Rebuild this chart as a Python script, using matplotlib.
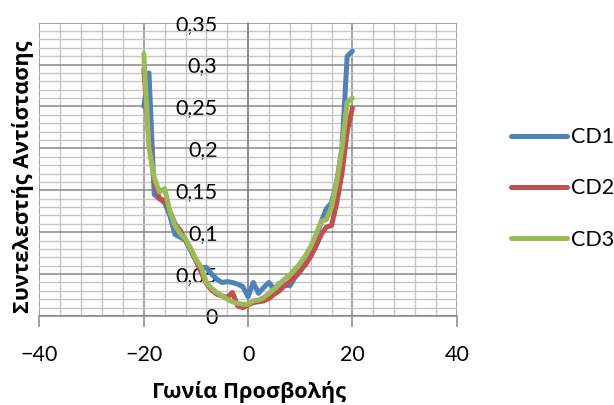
import matplotlib
matplotlib.use("Agg")
import matplotlib.pyplot as plt
from matplotlib.ticker import MultipleLocator, FuncFormatter

plt.rcParams['font.family'] = ['Lato', 'Open Sans', 'DejaVu Sans']

# Angle of attack (degrees)
angles = list(range(-20, 21))

cd1 = [0.250, 0.290, 0.145, 0.140, 0.135, 0.120, 0.097, 0.094, 0.090, 0.078,
       0.066, 0.058, 0.058, 0.050, 0.044, 0.040, 0.041, 0.040, 0.038, 0.035,
       0.023, 0.040, 0.027, 0.034, 0.040, 0.032, 0.039, 0.037, 0.036, 0.046,
       0.053, 0.064, 0.077, 0.092, 0.112, 0.128, 0.135, 0.160, 0.200, 0.310,
       0.316]
cd2 = [0.295, 0.210, 0.160, 0.140, 0.138, 0.125, 0.110, 0.102, 0.090, 0.080,
       0.066, 0.052, 0.039, 0.031, 0.026, 0.024, 0.022, 0.028, 0.012, 0.010,
       0.013, 0.016, 0.017, 0.018, 0.021, 0.026, 0.030, 0.036, 0.041, 0.047,
       0.054, 0.061, 0.071, 0.083, 0.097, 0.106, 0.108, 0.135, 0.170, 0.220,
       0.248]
cd3 = [0.313, 0.200, 0.165, 0.148, 0.152, 0.125, 0.108, 0.098, 0.092, 0.080,
       0.068, 0.058, 0.040, 0.033, 0.028, 0.024, 0.020, 0.017, 0.015, 0.014,
       0.014, 0.018, 0.019, 0.022, 0.027, 0.032, 0.038, 0.044, 0.049, 0.056,
       0.063, 0.072, 0.083, 0.097, 0.113, 0.115, 0.130, 0.160, 0.200, 0.255,
       0.260]

series_names = ['CD1', 'CD2', 'CD3']
series_colors = ['#4F81BD', '#C0504D', '#9BBB59']

x_label = 'Γωνία Προσβολής'
y_label = 'Συντελεστής Αντίστασης'

fig = plt.figure(figsize=(6.14, 4.05), dpi=100)
ax = fig.add_axes([0.0643, 0.2198, 0.6795, 0.7242])

for vals, name, col in zip([cd1, cd2, cd3], series_names, series_colors):
    ax.plot(angles, vals, color=col, lw=3.6, label=name,
            solid_capstyle='round', solid_joinstyle='round', zorder=3)

ax.set_xlim(-40, 40)
ax.set_ylim(0, 0.35)

ax.xaxis.set_major_locator(MultipleLocator(20))
ax.xaxis.set_minor_locator(MultipleLocator(4))
ax.yaxis.set_major_locator(MultipleLocator(0.05))
ax.yaxis.set_minor_locator(MultipleLocator(0.01))

ax.grid(which='minor', color='#C6C6C6', lw=1.0, zorder=0)
ax.grid(which='major', color='#878787', lw=1.1, zorder=1)

def comma_fmt(v, pos):
    s = ('%.2f' % v).rstrip('0').rstrip('.')
    return s.replace('.', ',')

ax.yaxis.set_major_formatter(FuncFormatter(comma_fmt))

for side in ['top', 'right']:
    ax.spines[side].set_visible(False)
ax.spines['left'].set_position(('data', 0))
ax.spines['left'].set_color('#878787')
ax.spines['bottom'].set_color('#878787')
ax.spines['left'].set_linewidth(1.1)
ax.spines['bottom'].set_linewidth(1.1)

ax.tick_params(axis='y', which='both', length=0, pad=22, labelsize=15.5)
ax.tick_params(axis='x', which='major', length=8, width=1.1, color='#878787',
               pad=13, labelsize=15.5)
ax.tick_params(axis='x', which='minor', length=0)

title_font = dict(family=['Open Sans', 'DejaVu Sans'], fontsize=15.6,
                  fontweight='bold')
fig.text(0.405, 0.031, x_label, ha='center', va='center', **title_font)
fig.text(0.037, 0.563, y_label, ha='center', va='center', rotation=90,
         **title_font)

leg = ax.legend(loc='center left', bbox_to_anchor=(0.815, 0.535),
                bbox_transform=fig.transFigure, frameon=False,
                fontsize=15.5, handlelength=2.6, handletextpad=0.2,
                labelspacing=1.45, borderpad=0)

fig.savefig('out.png', dpi=100)
